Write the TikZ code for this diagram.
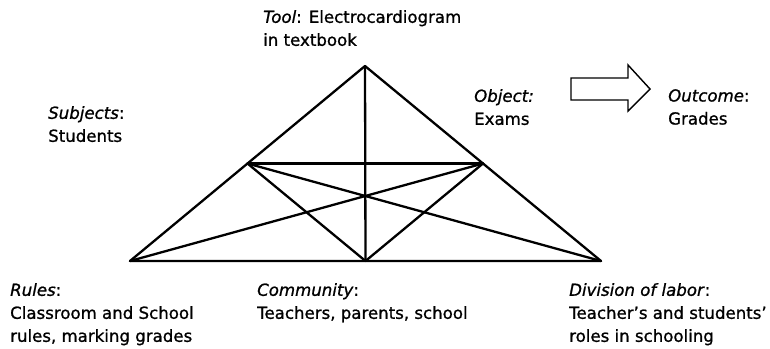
\documentclass[tikz,border=0pt]{standalone}
\usepackage{fontspec}
\setmainfont{DejaVu Sans}[FakeBold=1]

\begin{document}
\begin{tikzpicture}[x=1pt,y=-1pt,
  every node/.style={font=\fontsize{16.6}{23}\selectfont,inner sep=0pt,anchor=north west,align=left},
  edge/.style={line width=2.3pt,line join=round,line cap=round}]
  \useasboundingbox (0,0) rectangle (770,348);
  % corners of the triangle and midpoints of its sides
  \coordinate (tool) at (365,66);
  \coordinate (rules) at (130,261);
  \coordinate (labor) at (601,261);
  \coordinate (subj) at (247.5,163.5);
  \coordinate (obj) at (483,163.5);
  \coordinate (comm) at (365.5,261);
  \draw[edge] (tool)--(rules)--(labor)--cycle;
  \draw[edge] (tool)--(comm);
  \draw[edge] (subj)--(obj);
  \draw[edge] (subj)--(labor);
  \draw[edge] (obj)--(rules);
  \draw[edge] (subj)--(comm)--(obj);
  % outcome arrow
  \draw[line width=1.4pt,line join=miter] (571,78) -- (628,78) -- (628,65) -- (650,89)
    -- (628,111) -- (628,100) -- (571,100) -- cycle;
  % labels
  \node (tooltxt) at (263,10) {\textit{Tool}: Electrocardiogram\\in textbook};
  \node (subjtxt) at (48,106) {\textit{Subjects}:\\Students};
  \node (objtxt) at (474,89) {\textit{Object:}\\Exams};
  \node (outtxt) at (668,89) {\textit{Outcome}:\\Grades};
  \node (rulestxt) at (10,283) {\textit{Rules}:\\Classroom and School\\rules, marking grades};
  \node (commtxt) at (257,283) {\textit{Community}:\\Teachers, parents, school};
  \node (labortxt) at (569,283) {\textit{Division of labor}:\\Teacher’s and students’\\roles in schooling};
\end{tikzpicture}
\end{document}
